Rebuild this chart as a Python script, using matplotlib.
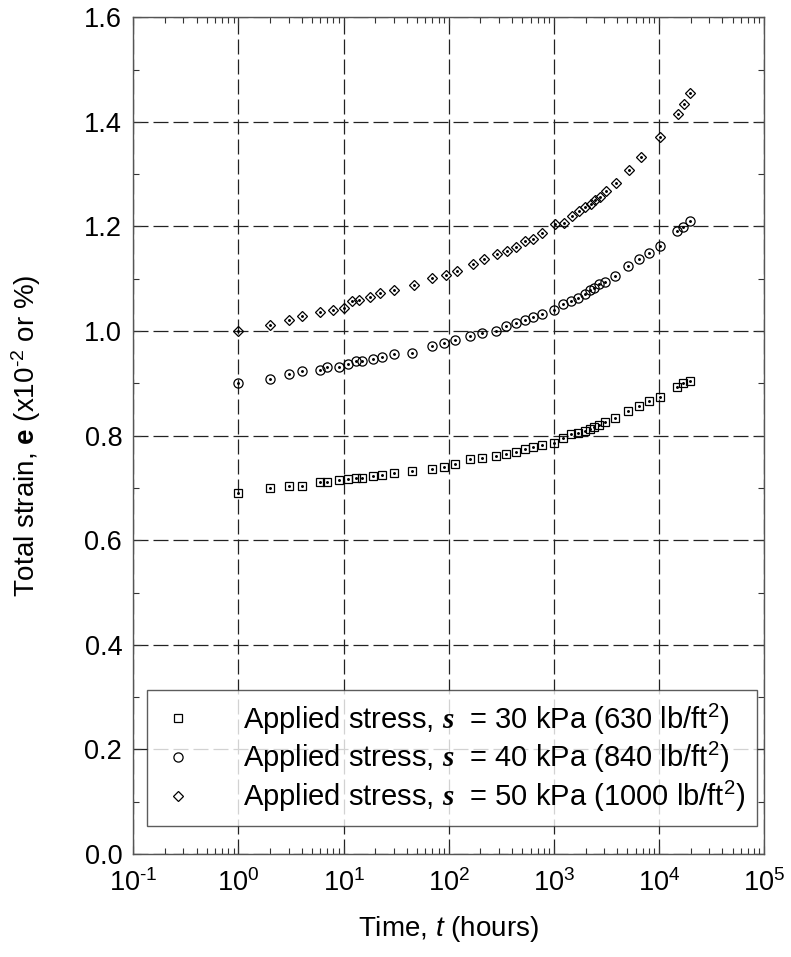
import matplotlib
matplotlib.use("Agg")
import matplotlib.pyplot as plt
from matplotlib.ticker import LogLocator, MultipleLocator, NullFormatter, FuncFormatter
import math

plt.rcParams['font.family'] = ['Liberation Sans', 'DejaVu Sans']
plt.rcParams['mathtext.fontset'] = 'custom'
plt.rcParams['mathtext.rm'] = 'Liberation Sans'
plt.rcParams['mathtext.it'] = 'Liberation Sans:italic'
plt.rcParams['mathtext.sf'] = 'Liberation Sans:bold'
plt.rcParams['mathtext.bf'] = 'Liberation Serif:bold:italic'

# ---- data ----
t_30 = [1, 2, 3, 4, 6, 7, 9, 11, 13, 15, 19, 23, 30, 45, 70, 90, 115, 160, 205, 280,
        350, 436, 527, 630, 767, 1000, 1216, 1445, 1700, 1990, 2190, 2400, 2690, 3090,
        3810, 5070, 6460, 8040, 10300, 14800, 17000, 19500]
strain_30 = [0.691, 0.700, 0.703, 0.703, 0.711, 0.712, 0.715, 0.717, 0.719, 0.719,
             0.722, 0.724, 0.728, 0.733, 0.737, 0.741, 0.745, 0.755, 0.757, 0.762,
             0.765, 0.769, 0.775, 0.778, 0.782, 0.786, 0.795, 0.803, 0.805, 0.809,
             0.813, 0.816, 0.820, 0.827, 0.833, 0.847, 0.857, 0.866, 0.874, 0.894,
             0.901, 0.905]

t_40 = [1, 2, 3, 4, 6, 7, 9, 11, 13, 15, 19, 23, 30, 45, 70, 90, 115, 160, 205, 280,
        350, 436, 527, 630, 767, 1000, 1216, 1445, 1700, 1990, 2190, 2400, 2690, 3090,
        3810, 5070, 6460, 8040, 10300, 14800, 17000, 19500]
strain_40 = [0.901, 0.909, 0.917, 0.923, 0.926, 0.931, 0.932, 0.938, 0.942, 0.943,
             0.947, 0.950, 0.956, 0.959, 0.972, 0.977, 0.982, 0.991, 0.997, 1.001,
             1.010, 1.015, 1.021, 1.026, 1.033, 1.040, 1.051, 1.058, 1.063, 1.070,
             1.079, 1.082, 1.090, 1.093, 1.105, 1.124, 1.138, 1.149, 1.162, 1.191,
             1.199, 1.210]

t_50 = [1, 2, 3, 4, 6, 8, 10, 12, 14, 18, 22, 30, 47, 70, 94, 119, 169, 218, 286, 357,
        437, 533, 631, 775, 1030, 1238, 1490, 1722, 1995, 2228, 2432, 2735, 3098, 3920,
        5180, 6680, 10300, 15000, 17100, 19500]
strain_50 = [1.001, 1.012, 1.021, 1.028, 1.037, 1.040, 1.045, 1.058, 1.060, 1.066,
             1.073, 1.079, 1.089, 1.102, 1.108, 1.115, 1.129, 1.138, 1.147, 1.154,
             1.160, 1.173, 1.177, 1.187, 1.205, 1.206, 1.220, 1.230, 1.238, 1.243,
             1.250, 1.257, 1.267, 1.284, 1.308, 1.333, 1.371, 1.416, 1.435, 1.455]

labels = [r'Applied stress, $\mathbf{s}$  = 30 kPa (630 lb/ft$^{2}$)',
          r'Applied stress, $\mathbf{s}$  = 40 kPa (840 lb/ft$^{2}$)',
          r'Applied stress, $\mathbf{s}$  = 50 kPa (1000 lb/ft$^{2}$)']

fig = plt.figure(figsize=(7.91, 9.57), dpi=100)
ax = fig.add_axes([0.1685, 0.1076, 0.9662 - 0.1685, 0.9819 - 0.1076])

series = [(t_30, strain_30, 's', 6.0), (t_40, strain_40, 'o', 6.6), (t_50, strain_50, 'D', 5.4)]
handles = []
for (t, s, m, ms), lab in zip(series, labels):
    h, = ax.plot(t, s, linestyle='none', marker=m, markersize=ms, markerfacecolor='none',
                 markeredgecolor='black', markeredgewidth=0.9, label=lab, zorder=3)
    ax.plot(t, s, linestyle='none', marker='o', markersize=1.1, color='black', zorder=4)
    handles.append(h)

ax.set_xscale('log')
ax.set_xlim(0.1, 1e5)
ax.set_ylim(0.0, 1.6)
ax.yaxis.set_major_locator(MultipleLocator(0.2))
ax.yaxis.set_minor_locator(MultipleLocator(0.1))
ax.yaxis.set_major_formatter(plt.FormatStrFormatter('%.1f'))
ax.xaxis.set_major_locator(LogLocator(base=10, numticks=20))
ax.xaxis.set_minor_locator(LogLocator(base=10, subs=range(2, 10), numticks=20))
ax.xaxis.set_minor_formatter(NullFormatter())


def dec_fmt(v, pos):
    e = int(round(math.log10(v)))
    return r'10$^{\text{%d}}$' % e


ax.xaxis.set_major_formatter(FuncFormatter(dec_fmt))

ax.grid(True, which='major', color='#222222', linestyle=(0, (12, 4)), linewidth=0.9)
ax.tick_params(which='both', direction='in', top=True, right=True, labelsize=19.5,
               width=0.8, colors='#333333', labelcolor='black')
ax.tick_params(which='major', length=6, pad=8)
ax.tick_params(axis='x', which='major', pad=11)
ax.tick_params(which='minor', length=4)
for sp in ax.spines.values():
    sp.set_color('#555555')
    sp.set_linewidth(1.0)

ax.set_xlabel(r'Time, $\mathit{t}$ (hours)', fontsize=20, labelpad=12)
ax.set_ylabel(r'Total strain, $\mathsf{e}$ (x10$^{\text{-2}}$ or %)', fontsize=20, labelpad=30)

leg = ax.legend(handles=handles, loc='lower right', bbox_to_anchor=(0.989, 0.034),
                borderaxespad=0, fontsize=21, frameon=True, fancybox=False,
                edgecolor='#333333', handletextpad=1.6, labelspacing=0.12,
                borderpad=0.4, handlelength=1.3)
leg.get_frame().set_linewidth(1.0)

fig.savefig('out.png', dpi=100)
